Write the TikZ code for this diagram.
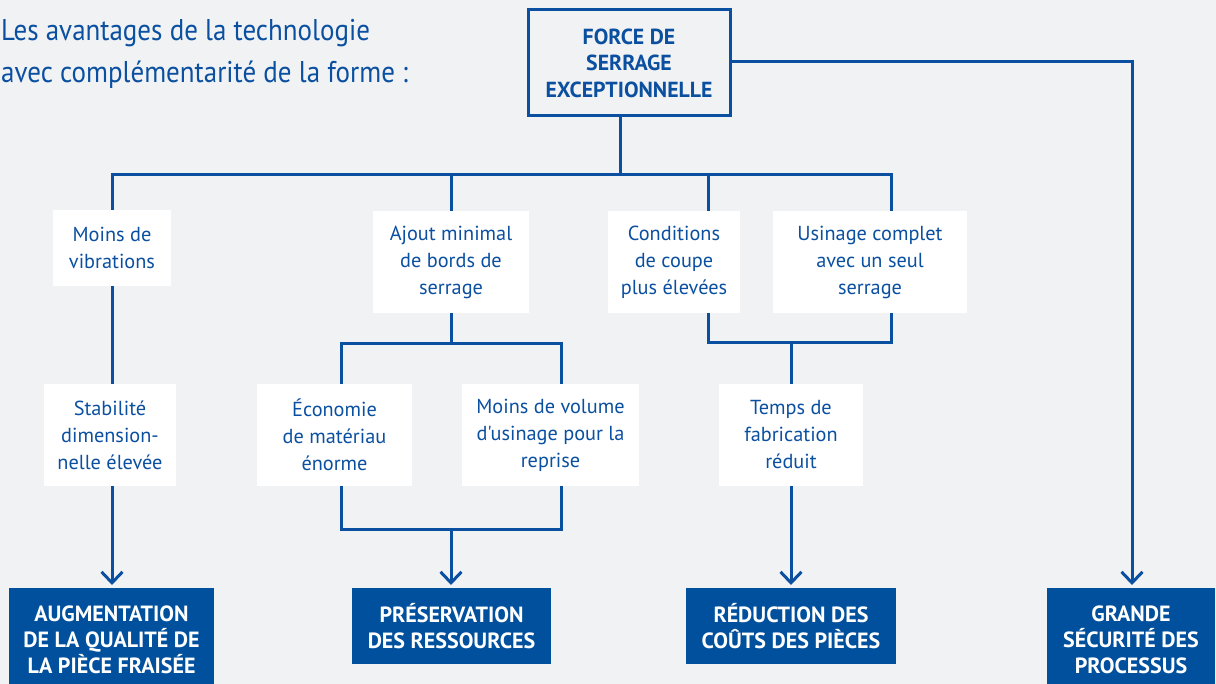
\documentclass[tikz,border=0pt]{standalone}
\usepackage{fontspec}
\setmainfont{PT Sans}
\newfontfamily\titlefont[FakeStretch=0.9]{PT Sans}
\newfontfamily\plainfont{PT Sans}
\usetikzlibrary{arrows.meta}
\definecolor{bblue}{HTML}{0B50A0}
\definecolor{fillblue}{HTML}{00509D}
\definecolor{bg}{HTML}{F1F2F4}
\tikzset{
  wbox/.style={fill=white, text=bblue, align=center, inner sep=0pt, font=\fontsize{20.3}{27}\selectfont},
  bbox/.style={fill=fillblue, text=white, align=center, inner sep=0pt, font=\fontsize{22}{26}\selectfont\bfseries},
  topbox/.style={draw=bblue, line width=3pt, fill=bg, text=bblue, align=center, inner sep=0pt, font=\fontsize{21.8}{26.5}\selectfont\bfseries},
  conn/.style={draw=bblue, line width=3pt, line join=miter},
  arr/.style={conn, -{Straight Barb[length=11pt,width=21pt,line width=3pt]}},
  ttl/.style={text=bblue, inner sep=0pt, anchor=base west, font=\titlefont\fontsize{30}{38}\selectfont}
}
\begin{document}
\begin{tikzpicture}[x=1pt,y=-1pt]
\useasboundingbox (0,0) rectangle (1216,684);
\fill[bg] (0,0) rectangle (1216,684);
\clip (0,0) rectangle (1216,684);

\node[ttl] (t1) at (1,41) {Les avantages de la technologie};
\node[ttl] (t2) at (1,83) {avec complémentarité de la forme :};

\node[topbox, minimum width=202pt, minimum height=106pt] (top) at (629,63) {FORCE DE\\SERRAGE\\EXCEPTIONNELLE};

% junction coordinates
\coordinate (j0) at (620,175);
\coordinate (cA) at (112,175);
\coordinate (cB) at (451,175);
\coordinate (cC) at (708,175);
\coordinate (cD) at (891,175);
\coordinate (jB) at (451,344);
\coordinate (cE) at (341,344);
\coordinate (cF) at (561,344);
\coordinate (jB2) at (451,529);
\coordinate (jC) at (791,343);
\coordinate (cR) at (1132,62);

% connectors (drawn before boxes)
\draw[conn] (top.south -| j0) -- (j0);
\draw[conn] (cA |- 0,240) -- (cA) -- (cD) -- (cD |- 0,240);
\draw[conn] (cB) -- (cB |- 0,240);
\draw[conn] (cC) -- (cC |- 0,240);

% white boxes row 1
\node[wbox, minimum width=118pt, minimum height=76pt] (mv) at (112,248) {Moins de\\vibrations};
\node[wbox, minimum width=156pt, minimum height=102pt] (aj) at (451,262) {Ajout minimal\\de bords de\\serrage};
\node[wbox, minimum width=132pt, minimum height=102pt] (co) at (674,262) {Conditions\\de coupe\\plus élevées};
\node[wbox, minimum width=194pt, minimum height=102pt] (us) at (870,262) {Usinage complet\\avec un seul\\serrage};

% bottom boxes
\node[bbox, minimum width=205pt, minimum height=103pt] (b1) at (111.5,639.5) {AUGMENTATION\\DE LA QUALITÉ DE\\LA PIÈCE FRAISÉE};
\node[bbox, minimum width=199pt, minimum height=76pt] (b2) at (451.5,626) {PRÉSERVATION\\DES RESSOURCES};
\node[bbox, minimum width=210pt, minimum height=76pt] (b3) at (791,626) {RÉDUCTION DES\\COÛTS DES PIÈCES};
\node[bbox, minimum width=168pt, minimum height=103pt] (b4) at (1131,639.5) {GRANDE\\SÉCURITÉ DES\\PROCESSUS};

% connectors row 2
\draw[arr] (mv.south -| cA) -- (cA |- 0,585);
\draw[conn] (aj.south -| jB) -- (jB);
\draw[conn] (cE |- 0,420) -- (cE) -- (cF) -- (cF |- 0,420);
\draw[conn] (cE |- 0,440) -- (cE |- jB2) -- (cF |- jB2) -- (cF |- 0,440);
\draw[arr] (jB2) -- (jB2 |- 0,585);
\draw[conn] (co.south -| cC) -- (cC |- jC) -- (cD |- jC) -- (us.south -| cD);
\draw[arr] (jC) -- (jC |- 0,585);
\draw[arr] (top.east |- cR) -- (cR) -- (cR |- 0,585);

% white boxes row 2
\node[wbox, minimum width=132pt, minimum height=101pt] (st) at (110,435) {Stabilité\\dimension-\\nelle élevée};
\node[wbox, minimum width=155pt, minimum height=101pt] (ec) at (334.5,435) {Économie\\de matériau\\énorme};
\node[wbox, minimum width=177pt, minimum height=101pt] (mo) at (550.5,435) {Moins de volume\\{\plainfont d'usinage} pour la\\reprise};
\node[wbox, minimum width=144pt, minimum height=101pt] (te) at (791,435) {Temps de\\fabrication\\réduit};
\end{tikzpicture}
\end{document}
